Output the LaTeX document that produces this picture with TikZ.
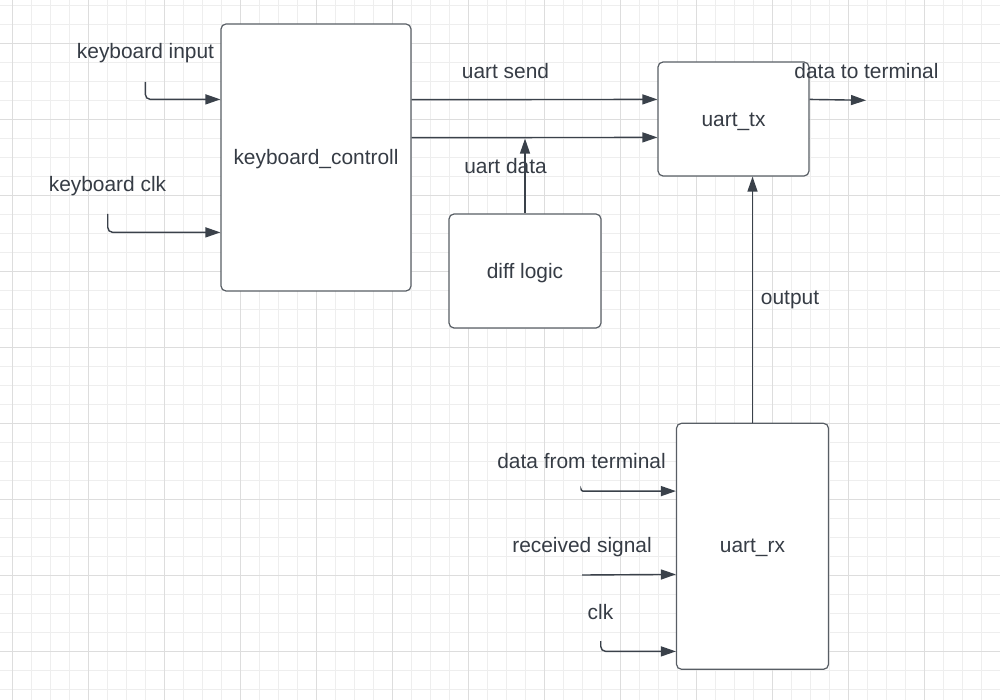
\documentclass[tikz,border=0pt]{standalone}
\usepackage{fontspec}
\setmainfont{Liberation Sans}
\usetikzlibrary{arrows.meta}
\definecolor{ink}{HTML}{3A414A}
\definecolor{txt}{HTML}{363C45}
\definecolor{gridminor}{HTML}{EEEEEE}
\definecolor{gridmajor}{HTML}{DDDDDD}
\tikzset{
  blockbox/.style={draw=ink!85, line width=1.2pt, rounded corners=5pt, fill=white, inner sep=0pt, text=txt, font=\fontsize{20.9}{25}\selectfont, text height=19pt, text depth=4.4pt},
  lbl/.style={inner sep=0pt, text=txt, font=\fontsize{20.9}{25}\selectfont},
  arr/.style={draw=ink, line width=1.4pt, -{Triangle[length=15pt, width=10pt]}, rounded corners=5pt},
}
\begin{document}
\begin{tikzpicture}[x=1pt, y=-1pt]
\useasboundingbox (0,0) rectangle (1000,700);
\fill[white] (0,0) rectangle (1000,700);
% grid
\foreach \i in {0,...,52} {
  \draw[gridminor, line width=1pt] ({12.7+19*\i-19},0) -- ({12.7+19*\i-19},700);
}
\foreach \j in {0,...,37} {
  \draw[gridminor, line width=1pt] (0,{5.3+19*\j}) -- (1000,{5.3+19*\j});
}
\foreach \i in {0,...,13} {
  \draw[gridmajor, line width=1pt] ({12.7+76*\i},0) -- ({12.7+76*\i},700);
}
\foreach \j in {0,...,9} {
  \draw[gridmajor, line width=1pt] (0,{43.3+76*\j}) -- (1000,{43.3+76*\j});
}
% blocks
\node[blockbox, minimum width=190pt, minimum height=267pt] (kc) at (316,157.5) {keyboard\_controll};
\node[blockbox, minimum width=151pt, minimum height=114pt] (tx) at (733.5,119) {uart\_tx};
\node[blockbox, minimum width=152pt, minimum height=114pt] (dl) at (525,271) {diff logic};
\node[blockbox, minimum width=152pt, minimum height=246pt, text height=17pt] (rx) at (752.5,546.3) {uart\_rx};
% labels
\node[lbl] (lki) at (145.5,53) {keyboard input};
\node[lbl] (lkc) at (107.5,186) {keyboard clk};
\node[lbl] (lus) at (505.5,71.5) {uart send};
\node[lbl] (lud) at (505.5,166) {uart data};
\node[lbl] (ldt) at (866.5,71) {data to terminal};
\node[lbl] (lout) at (790,300) {output};
\node[lbl] (ldf) at (581.5,461) {data from terminal};
\node[lbl] (lrs) at (582,547) {received signal};
\node[lbl] (lclk) at (600.5,612) {clk};
% free ends
\coordinate (kin) at (145.3,82);
\coordinate (kclk) at (107.7,214);
\coordinate (dout) at (866,100.3);
\coordinate (dfin) at (581,489.5);
\coordinate (rsin) at (582,575);
\coordinate (clkin) at (600.7,641);
% connectors
\draw[arr] (kin) |- ([yshift=-76pt]kc.north west);
\draw[arr] (kclk) |- ([yshift=-209pt]kc.north west);
\draw[arr] ([yshift=-76.3pt]kc.north east) -- ([yshift=-38pt]tx.north west);
\draw[arr] ([yshift=-114.3pt]kc.north east) -- ([yshift=-76pt]tx.north west);
\coordinate (jn) at (dl.north |- 0,138.6);
\draw[arr] (dl.north) -- (jn);
\draw[arr] ([yshift=-38pt]tx.north east) -- (dout);
\draw[arr] (rx.north) -- (rx.north |- tx.south);
\draw[arr, rounded corners=2pt] (dfin) |- ([yshift=-68.4pt]rx.north west);
\draw[arr] (rsin) -- ([yshift=-151.7pt]rx.north west);
\draw[arr] (clkin) |- ([yshift=-228.7pt]rx.north west);
\end{tikzpicture}
\end{document}
